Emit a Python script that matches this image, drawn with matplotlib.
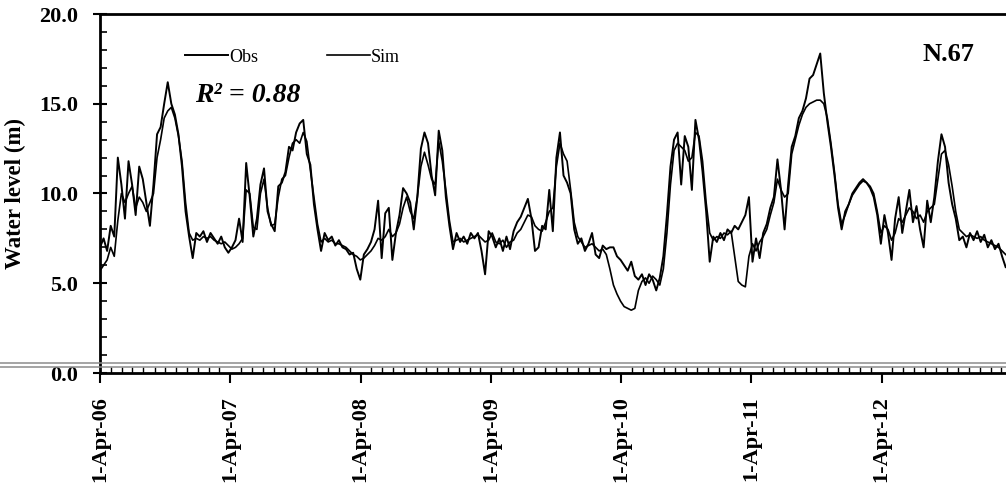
import pandas as pd
import matplotlib.pyplot as plt
import matplotlib.dates as mdates
from matplotlib.lines import Line2D

plt.rcParams['font.family'] = ['Liberation Serif', 'DejaVu Serif']

# water level (m), one reading every 10 days from 1 Apr 2006
obs = [7.0, 7.5, 6.8, 8.2, 7.6, 12.0, 10.5, 8.6, 11.8, 10.5, 8.8, 11.5, 10.8, 9.5, 8.2, 10.5,
       13.3, 13.7, 15.0, 16.2, 15.0, 14.4, 13.3, 11.5, 9.0, 7.6, 6.4, 7.8, 7.6, 7.9, 7.3, 7.8,
       7.5, 7.2, 7.6, 7.0, 6.7,
       7.0, 7.4, 8.6, 7.3, 11.7, 9.8, 7.6, 8.6, 10.5, 11.4, 9.0, 8.3, 7.9, 10.4, 10.6, 11.2,
       12.6, 12.4, 13.4, 13.9, 14.1, 12.2, 11.6, 9.4, 8.0, 6.8, 7.8, 7.4, 7.6, 7.1, 7.4, 7.0,
       6.9, 6.6, 6.7, 5.8,
       5.2, 6.6, 6.9, 7.3, 8.0, 9.6, 6.4, 8.9, 9.2, 6.3, 7.8, 8.8, 10.3, 10.0, 9.5, 8.0,
       9.8, 12.5, 13.4, 12.8, 11.0, 9.9, 13.5, 12.4, 9.8, 8.2, 6.9, 7.8, 7.3, 7.6, 7.2, 7.8,
       7.5, 7.8, 6.8, 5.5, 7.9,
       7.6, 7.0, 7.5, 6.8, 7.6, 6.9, 7.9, 8.4, 8.7, 9.2, 9.7, 8.6, 6.8, 7.0, 8.2, 8.0,
       10.2, 7.9, 12.0, 13.4, 11.0, 10.6, 10.0, 8.0, 7.2, 7.5, 6.8, 7.2, 7.8, 6.6, 6.4, 7.1,
       6.9, 7.0, 7.0, 6.5,
       6.3, 6.0, 5.7, 6.2, 5.4, 5.2, 5.5, 4.9, 5.5, 5.2, 4.6, 5.3, 6.5, 8.8, 11.5, 13.0,
       13.4, 10.5, 13.2, 12.6, 10.2, 14.1, 13.0, 11.2, 9.0, 6.2, 7.6, 7.3, 7.8, 7.4, 8.0, 7.8,
       8.2, 8.0, 8.4, 8.8,
       9.8, 6.2, 7.5, 6.4, 7.8, 8.3, 9.2, 9.8, 11.9, 10.2, 8.0, 10.5, 12.6, 13.2, 14.2, 14.6,
       15.3, 16.4, 16.6, 17.2, 17.8, 15.6, 14.0, 12.6, 11.0, 9.2, 8.0, 9.0, 9.4, 10.0, 10.3, 10.6,
       10.8, 10.6, 10.3, 9.8, 8.8,
       7.2, 8.8, 7.8, 6.3, 8.6, 9.8, 7.8, 9.0, 10.2, 8.4, 9.3, 8.0, 7.0, 9.6, 8.4, 9.8,
       11.8, 13.3, 12.6, 10.6, 9.4, 8.6, 7.4, 7.6, 7.0, 7.8, 7.4, 7.9, 7.3, 7.7, 7.0, 7.4,
       6.9, 7.2, 6.5, 5.9]

sim = [5.7, 6.0, 6.3, 7.0, 6.5, 8.5, 10.0, 9.5, 10.0, 10.4, 9.2, 9.8, 9.5, 9.0, 9.5, 10.0,
       12.0, 13.0, 14.2, 14.6, 14.8, 14.2, 13.2, 11.8, 9.5, 7.8, 7.4, 7.5, 7.4, 7.6, 7.5, 7.6,
       7.4, 7.3, 7.2, 7.3, 7.1,
       6.9, 7.0, 7.2, 7.5, 10.2, 10.0, 8.1, 8.0, 10.0, 10.8, 9.2, 8.2, 8.3, 9.8, 10.8, 11.0,
       12.0, 12.8, 13.0, 12.8, 13.4, 12.9, 11.3, 9.8, 8.3, 7.3, 7.5, 7.3, 7.4, 7.2, 7.2, 7.1,
       7.0, 6.8, 6.6, 6.5,
       6.3, 6.4, 6.6, 6.8, 7.1, 7.5, 7.4, 7.6, 8.0, 7.6, 7.8, 8.3, 9.2, 9.8, 9.0, 8.6,
       9.8, 11.5, 12.3, 11.6, 10.8, 10.5, 12.9, 11.8, 10.2, 8.5, 7.3, 7.4, 7.5, 7.3, 7.4, 7.5,
       7.6, 7.7, 7.5, 7.3, 7.4,
       7.8, 7.3, 7.2, 7.4, 7.0, 7.3, 7.4, 7.8, 8.0, 8.4, 8.8, 8.7, 8.2, 8.0, 7.9, 8.4,
       9.0, 9.2, 11.5, 12.8, 12.2, 11.8, 10.2, 8.4, 7.6, 7.3, 7.0, 7.1, 7.2, 7.0, 6.8, 6.9,
       6.6, 5.8, 4.9, 4.4,
       4.0, 3.7, 3.6, 3.5, 3.6, 4.6, 5.1, 5.3, 5.0, 5.4, 5.2, 4.9, 5.8, 7.8, 10.5, 12.4,
       12.8, 12.6, 12.4, 11.8, 12.0, 13.4, 13.2, 11.8, 9.5, 7.8, 7.4, 7.6, 7.5, 7.8, 7.7, 7.9,
       6.5, 5.1, 4.9, 4.8,
       6.5, 7.2, 6.8, 7.3, 7.6, 8.0, 8.8, 9.5, 10.8, 10.2, 9.8, 10.0, 12.2, 13.0, 13.8, 14.4,
       14.8, 15.0, 15.1, 15.2, 15.2, 15.0, 14.2, 12.8, 11.2, 9.4, 8.3, 8.8, 9.4, 9.9, 10.2, 10.5,
       10.7, 10.6, 10.4, 10.0, 9.0,
       7.8, 8.2, 8.0, 7.4, 7.8, 8.6, 8.4, 8.8, 9.2, 9.0, 8.6, 8.8, 8.4, 9.0, 9.2, 9.4,
       10.8, 12.2, 12.4, 11.6, 10.4, 9.0, 8.0, 7.8, 7.6, 7.7, 7.6, 7.5, 7.6, 7.4, 7.3, 7.2,
       7.1, 7.0, 6.8, 6.6]

tick_dates = ['2006-04-01', '2007-04-01', '2008-04-01', '2009-04-01',
              '2010-04-01', '2011-04-01', '2012-04-01']
tick_labels = ['1-Apr-06', '1-Apr-07', '1-Apr-08', '1-Apr-09',
               '1-Apr-10', '1-Apr-11', '1-Apr-12']

dates = pd.date_range('2006-04-01', periods=len(obs), freq='10D')

fig = plt.figure(figsize=(10.06, 4.86), dpi=100)
ax = fig.add_axes([100 / 1006, 113 / 486, 906 / 1006, 359 / 486])

ax.plot(dates, obs, color='black', lw=1.4, label='Obs')
ax.plot(dates, sim, color='black', lw=1.2, label='Sim')

ax.set_ylim(0, 20)
ax.set_xlim(pd.Timestamp('2006-04-01'), pd.Timestamp('2013-03-16'))

ax.set_yticks([0, 5, 10, 15, 20])
ax.set_yticklabels(['0.0', '5.0', '10.0', '15.0', '20.0'], fontsize=16, fontweight='bold')
ax.set_yticks(range(0, 21), minor=True)
ax.set_xticks(pd.to_datetime(tick_dates))
ax.set_xticklabels(tick_labels, rotation=90, fontsize=16, fontweight='bold')
ax.xaxis.set_minor_locator(mdates.MonthLocator())

ax.tick_params(axis='y', which='major', direction='inout', length=10, width=1.5, pad=11)
ax.tick_params(axis='y', which='minor', direction='in', length=5, width=1.2)
ax.tick_params(axis='x', which='major', direction='out', length=7, width=1.5, pad=10)
ax.tick_params(axis='x', which='minor', direction='in', length=4, width=1.0)

for s in ['left', 'bottom', 'top']:
    ax.spines[s].set_linewidth(2)
ax.spines['right'].set_visible(False)

ax.set_ylabel('Water level (m)', fontsize=16.5, fontweight='bold', labelpad=9)

ax.legend(loc='center left', bbox_to_anchor=(0.094, 0.88), ncol=2, frameon=False,
          fontsize=13, handlelength=2.4, handletextpad=0.05, columnspacing=3.8,
          borderpad=0, borderaxespad=0)

ax.text(0.105, 0.774, 'R² = 0.88', transform=ax.transAxes, fontsize=20,
        fontweight='bold', style='italic', va='center', ha='left')
ax.text(0.908, 0.886, 'N.67', transform=ax.transAxes, fontsize=19,
        fontweight='bold', va='center', ha='left')

# double rule from the scanned page just above the x axis
for yp in [363, 367]:
    fig.add_artist(Line2D([0, 1], [1 - yp / 486, 1 - yp / 486], transform=fig.transFigure,
                          color='#8c8c8c', lw=1.1))

fig.savefig('out.png', dpi=100)
